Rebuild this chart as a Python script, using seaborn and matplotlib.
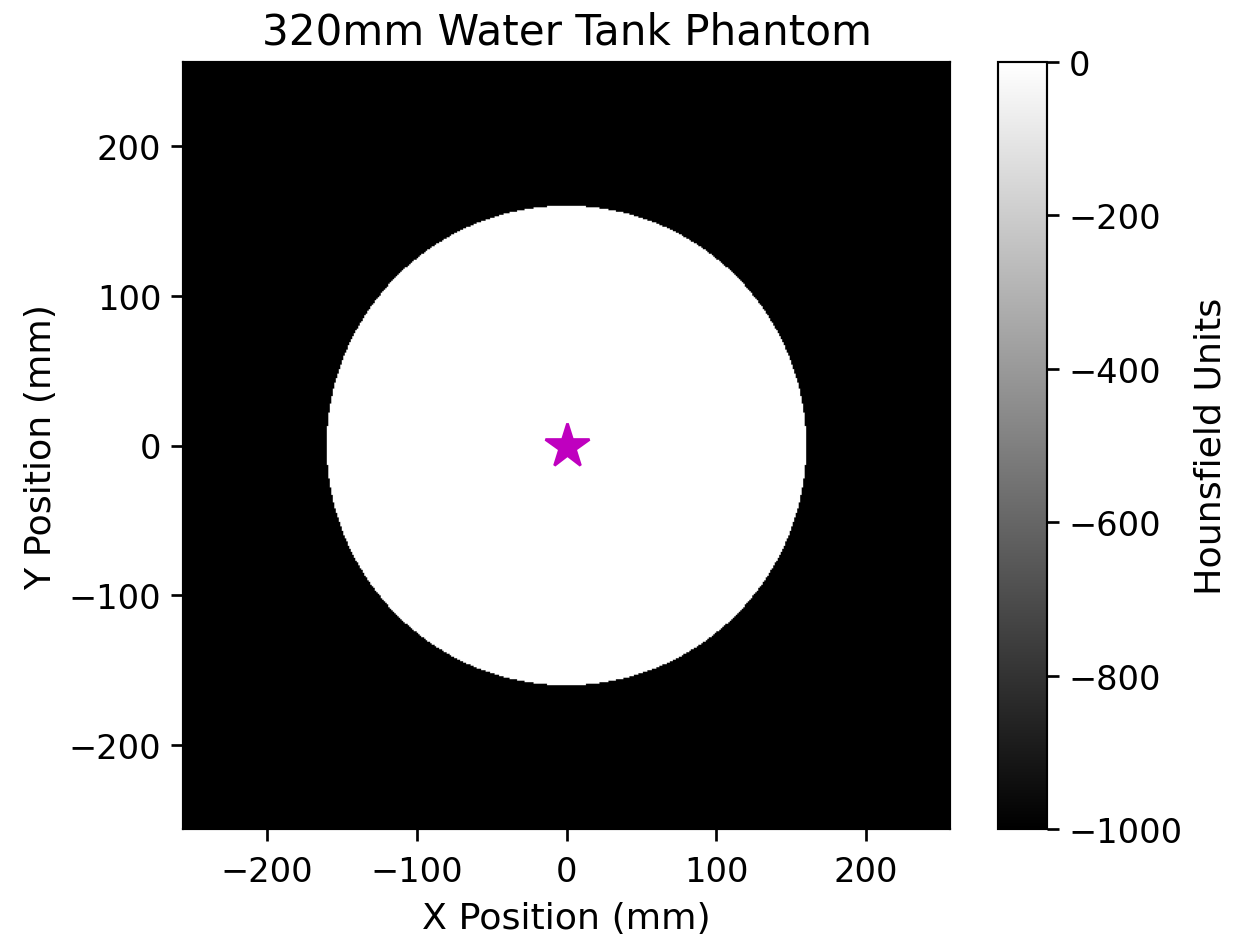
import numpy as np
import matplotlib
matplotlib.use("Agg")
import matplotlib.pyplot as plt
import seaborn as sns

# --- data ---
title = "320mm Water Tank Phantom"
tank_diameter_mm = 320
field_of_view_mm = 512
grid_size = 512
hu_water = 0
hu_air = -1000
star_xy = [0, 0]
x_ticks = [-200, -100, 0, 100, 200]
y_ticks = [-200, -100, 0, 100, 200]
cbar_ticks = [0, -200, -400, -600, -800, -1000]

sns.set_style("ticks", {"axes.edgecolor": "black", "xtick.color": "black",
                        "ytick.color": "black", "text.color": "black",
                        "axes.labelcolor": "black"})
plt.rcParams['font.family'] = ['DejaVu Sans']
plt.rcParams['font.size'] = 12.5

half = field_of_view_mm / 2
coords = (np.arange(grid_size) + 0.5) / grid_size * field_of_view_mm - half
X, Y = np.meshgrid(coords, coords)
img = np.where(X**2 + Y**2 <= (tank_diameter_mm / 2) ** 2, hu_water, hu_air)

W, H = 1241, 940
dpi = 194
fig = plt.figure(figsize=(W / dpi, H / dpi), dpi=dpi)
ax = fig.add_axes([183 / W, 1 - 830 / H, (950 - 183) / W, (830 - 63) / H])
cax = fig.add_axes([998 / W, 1 - 830 / H, (1047 - 998) / W, (830 - 63) / H])

im = ax.imshow(img, cmap="gray", vmin=hu_air, vmax=hu_water, origin="lower",
               extent=[-half, half, -half, half], interpolation="antialiased")
ax.plot(star_xy[0], star_xy[1], marker="*", color="m", markersize=17, linestyle="none")
ax.set_xticks(x_ticks)
ax.set_yticks(y_ticks)
ax.tick_params(labelsize=12.5, length=4.5, width=1)
ax.tick_params(axis="x", pad=5)
ax.set_xlabel("X Position (mm)", fontsize=13.5, labelpad=5)
ax.set_ylabel("Y Position (mm)", fontsize=13.5, labelpad=4)
ax.set_title(title, fontsize=15.6, pad=7)

cb = fig.colorbar(im, cax=cax)
cb.set_ticks(cbar_ticks)
cb.ax.tick_params(labelsize=12.5, length=4.5, width=1)
cb.set_label("Hounsfield Units", fontsize=13.5, labelpad=4)

fig.savefig("out.png", dpi=dpi)
